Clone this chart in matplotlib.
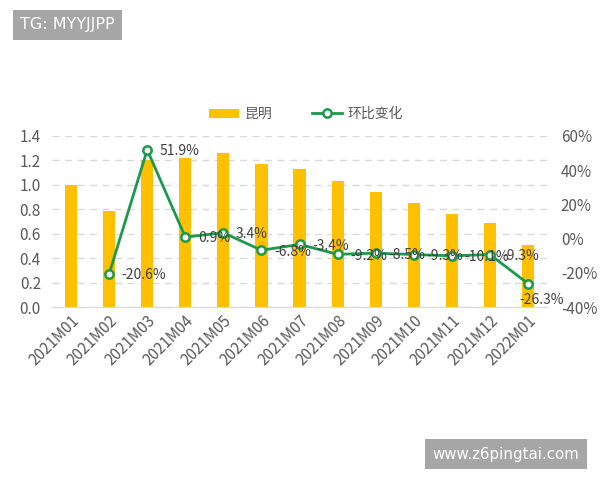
import matplotlib
matplotlib.use("Agg")
import matplotlib.pyplot as plt
from matplotlib.ticker import FuncFormatter

plt.rcParams['font.family'] = ['Noto Sans CJK SC', 'DejaVu Sans']

categories = ["2021M01", "2021M02", "2021M03", "2021M04", "2021M05", "2021M06", "2021M07",
              "2021M08", "2021M09", "2021M10", "2021M11", "2021M12", "2022M01"]
kunming = [1.00, 0.79, 1.20, 1.22, 1.26, 1.17, 1.13, 1.03, 0.94, 0.85, 0.76, 0.69, 0.51]
mom_pct = [None, -20.6, 51.9, 0.9, 3.4, -6.8, -3.4, -9.2, -8.5, -9.3, -10.1, -9.3, -26.3]
bar_name = "昆明"
line_name = "环比变化"

BAR_C = "#FFC000"
LINE_C = "#1A9A4A"
TXT_C = "#595959"

fig = plt.figure(figsize=(6, 4.8), dpi=100)
ax = fig.add_axes([0.0867, 0.3604, 0.825, 0.3563])
ax2 = ax.twinx()

x = list(range(len(categories)))
ax.bar(x, kunming, width=0.32, color=BAR_C, label=bar_name, zorder=2)
ax.set_ylim(0, 1.4)
ax.set_yticks([0, 0.2, 0.4, 0.6, 0.8, 1.0, 1.2, 1.4])
ax.yaxis.set_major_formatter(FuncFormatter(lambda v, p: f"{v:.1f}"))
ax.set_xlim(-0.5, len(categories) - 0.5)
ax.set_xticks(x)
ax.set_xticklabels(categories, rotation=45, ha='right', rotation_mode='anchor')
ax.grid(axis='y', linestyle=(0, (5, 4)), color='#D9D9D9', linewidth=1, zorder=0)
ax.set_axisbelow(True)

lx = [i for i, v in zip(x, mom_pct) if v is not None]
ly = [v for v in mom_pct if v is not None]
ax2.plot(lx, ly, color=LINE_C, linewidth=2, marker='o', markersize=6,
         markerfacecolor='white', markeredgecolor=LINE_C, markeredgewidth=1.8,
         label=line_name, zorder=3)
ax2.set_ylim(-40, 60)
ax2.set_yticks([-40, -20, 0, 20, 40, 60])
ax2.yaxis.set_major_formatter(FuncFormatter(lambda v, p: f"{v:.0f}%"))

for k, (xi, yi) in enumerate(zip(lx, ly)):
    off = (9, -1) if k < len(lx) - 1 else (-6, -12)
    ax2.annotate(f"{yi:.1f}%", (xi, yi), xytext=off, textcoords='offset points',
                 ha='left', va='center', fontsize=10, color='#404040', zorder=4)

for a in (ax, ax2):
    for s in ('top', 'left', 'right'):
        a.spines[s].set_visible(False)
    a.spines['bottom'].set_color('#D9D9D9')
    a.tick_params(axis='both', length=0, labelsize=11, colors=TXT_C)
ax.tick_params(axis='y', pad=8)
ax2.tick_params(axis='y', pad=10)
ax.tick_params(axis='x', pad=4)

h1, l1 = ax.get_legend_handles_labels()
h2, l2 = ax2.get_legend_handles_labels()
fig.legend(h1 + h2, l1 + l2, loc='center', bbox_to_anchor=(0.51, 0.762), ncol=2,
           frameon=False, fontsize=10, labelcolor=TXT_C, handlelength=2.2,
           columnspacing=2.8, handletextpad=0.4)

fig.text(0.033, 0.948, "TG: MYYJJPP", fontsize=11.5, color='white', ha='left', va='center',
         family=['DejaVu Sans'],
         bbox=dict(boxstyle='square,pad=0.45', facecolor='#A6A6A6', edgecolor='none'))
fig.text(0.721, 0.0535, "www.z6pingtai.com", fontsize=10.8, color='white', ha='left', va='center',
         family=['DejaVu Sans'],
         bbox=dict(boxstyle='square,pad=0.5', facecolor='#A6A6A6', edgecolor='none'))

fig.savefig("out.png", dpi=100)
